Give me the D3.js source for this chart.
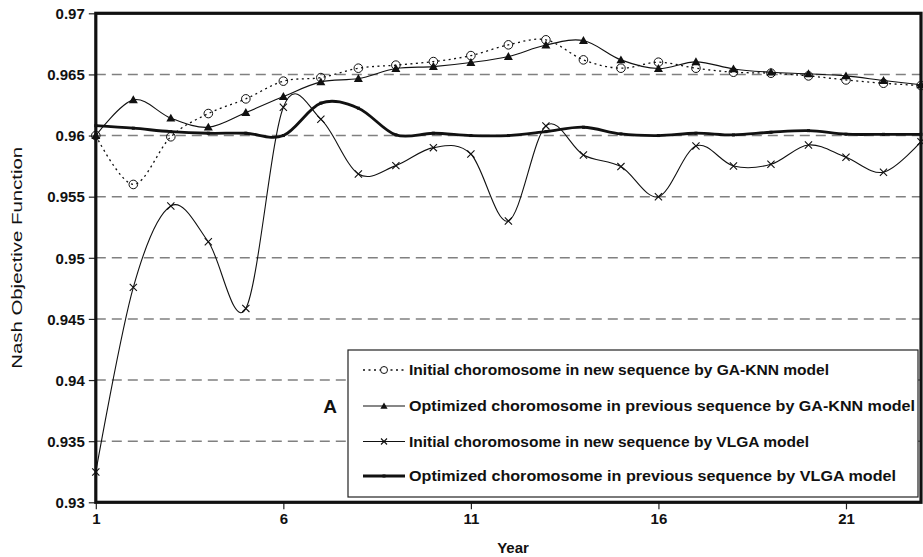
<!DOCTYPE html>
<html>
<head>
<meta charset="utf-8">
<script src="https://cdn.jsdelivr.net/npm/d3@7"></script>
<style>
  body { margin: 0; background: #fff; }
  svg text { font-family: "Liberation Sans", Arial, sans-serif; fill: #111; }
</style>
</head>
<body>
<svg id="chart" width="923" height="557"></svg>
<script>
// values
const years = [1, 2, 3, 4, 5, 6, 7, 8, 9, 10, 11, 12, 13, 14, 15, 16, 17, 18, 19, 20, 21, 22, 23];
const xTicks = [1, 6, 11, 16, 21];
const yTicks = [0.93, 0.935, 0.94, 0.945, 0.95, 0.955, 0.96, 0.965, 0.97];

const gaKnnInitial = [0.9600, 0.9560, 0.9599, 0.9618, 0.9630, 0.96445, 0.96474, 0.96551, 0.96576, 0.96605, 0.96654, 0.96742,
    0.96783, 0.96619, 0.96551, 0.96600, 0.96551, 0.96518, 0.9651, 0.96488, 0.96455, 0.96428, 0.96409];
const gaKnnOptimized = [0.9600, 0.96292, 0.96142, 0.96068, 0.96188, 0.96319, 0.96439, 0.96466, 0.96548, 0.96564, 0.96597, 0.96646,
    0.9674, 0.96777, 0.96619, 0.96548, 0.96603, 0.96545, 0.96518, 0.96505, 0.96488, 0.9645, 0.96415];
const vlgaInitial = [0.93248, 0.94758, 0.95424, 0.95131, 0.94586, 0.96232, 0.96134, 0.95686, 0.95754, 0.95901, 0.95849, 0.95301,
    0.96079, 0.95841, 0.95746, 0.9550, 0.95915, 0.95751, 0.95765, 0.95923, 0.95822, 0.9570, 0.9595];
const vlgaOptimized = [0.96081, 0.9606, 0.96032, 0.96019, 0.96019, 0.9600, 0.96265, 0.96224, 0.96005, 0.96019, 0.9600, 0.9600,
    0.96032, 0.96068, 0.96013, 0.9600, 0.96019, 0.96005, 0.96027, 0.9604, 0.96011, 0.9601, 0.9601];

const seriesNames = [
    'Initial choromosome in new sequence by GA-KNN model',
    'Optimized choromosome in previous sequence by GA-KNN model',
    'Initial choromosome in new sequence by VLGA model',
    'Optimized choromosome in previous sequence by VLGA model'
];

const svg = d3.select('#chart');
const plotLeft = 95.8, plotRight = 921, plotTop = 13.3, plotBottom = 502.3;

const x = d3.scaleLinear().domain([1, 23]).range([plotLeft, plotRight]);
const y = d3.scaleLinear().domain([0.93, 0.97]).range([plotBottom, plotTop]);

// dashed grid
svg.append('g')
    .selectAll('line')
    .data(yTicks.slice(1, -1))
    .enter()
    .append('line')
    .attr('x1', plotLeft).attr('x2', plotRight)
    .attr('y1', d => y(d)).attr('y2', d => y(d))
    .attr('stroke', '#808080')
    .attr('stroke-width', 1.5)
    .attr('stroke-dasharray', '10,6');

// axes
const yAxis = svg.append('g')
    .attr('transform', `translate(${plotLeft},0)`)
    .call(d3.axisLeft(y).tickValues(yTicks).tickFormat(d => String(+d.toFixed(3))).tickSize(7).tickSizeOuter(0));
const xAxis = svg.append('g')
    .attr('transform', `translate(0,${plotBottom})`)
    .call(d3.axisBottom(x).tickValues(xTicks).tickSize(7).tickSizeOuter(0));

[yAxis, xAxis].forEach(g => {
    g.select('.domain').remove();
    g.selectAll('line').attr('stroke', '#222').attr('stroke-width', 1.2);
    g.selectAll('text')
        .style('font-size', '15px')
        .style('font-weight', 'bold')
        .attr('fill', '#111');
});
yAxis.selectAll('text').attr('x', -11).attr('dy', '0.35em');
xAxis.selectAll('text').attr('y', 11).attr('dy', '0.71em');

// plot frame
svg.append('rect')
    .attr('x', plotLeft).attr('y', plotTop)
    .attr('width', plotRight - plotLeft).attr('height', plotBottom - plotTop)
    .attr('fill', 'none')
    .attr('stroke', '#111')
    .attr('stroke-width', 3.2);

// axis titles
svg.append('text')
    .attr('transform', `translate(22,${(plotTop + plotBottom) / 2}) rotate(-90)`)
    .attr('text-anchor', 'middle')
    .attr('textLength', 222)
    .attr('lengthAdjust', 'spacingAndGlyphs')
    .style('font-size', '15px')
    .text('Nash Objective Function');

svg.append('text')
    .attr('x', 513).attr('y', 553)
    .attr('text-anchor', 'middle')
    .style('font-size', '15px')
    .style('font-weight', 'bold')
    .text('Year');

// series
const line = d3.line()
    .x((d, i) => x(years[i]))
    .y(d => y(d))
    .curve(d3.curveCardinal.tension(0));

const plot = svg.append('g');

function drawMarkers(g, pts, kind, size) {
    if (kind === 'circle') {
        g.selectAll('circle').data(pts).enter().append('circle')
            .attr('cx', d => d[0]).attr('cy', d => d[1]).attr('r', size)
            .attr('fill', 'none').attr('stroke', '#111').attr('stroke-width', 1);
    } else if (kind === 'triangle') {
        g.selectAll('path.m').data(pts).enter().append('path')
            .attr('class', 'm')
            .attr('d', d => `M${d[0]},${d[1] - size}L${d[0] + size},${d[1] + size * 0.75}L${d[0] - size},${d[1] + size * 0.75}Z`)
            .attr('fill', '#111');
    } else if (kind === 'cross') {
        g.selectAll('path.m').data(pts).enter().append('path')
            .attr('class', 'm')
            .attr('d', d => `M${d[0] - size},${d[1] - size}L${d[0] + size},${d[1] + size}M${d[0] - size},${d[1] + size}L${d[0] + size},${d[1] - size}`)
            .attr('stroke', '#111').attr('stroke-width', 1.1);
    } else if (kind === 'square') {
        g.selectAll('rect').data(pts).enter().append('rect')
            .attr('x', d => d[0] - size).attr('y', d => d[1] - size)
            .attr('width', size * 2).attr('height', size * 2)
            .attr('fill', '#111');
    }
}

const styles = [
    { values: gaKnnInitial, width: 1.3, dash: '2,3.5', marker: 'circle', size: 4.3 },
    { values: gaKnnOptimized, width: 1.1, dash: null, marker: 'triangle', size: 4.5 },
    { values: vlgaInitial, width: 1.1, dash: null, marker: 'cross', size: 3.6 },
    { values: vlgaOptimized, width: 2.8, dash: null, marker: 'square', size: 1.5 }
];

styles.forEach(s => {
    const g = plot.append('g');
    g.append('path')
        .datum(s.values)
        .attr('d', line)
        .attr('fill', 'none')
        .attr('stroke', '#111')
        .attr('stroke-width', s.width)
        .attr('stroke-dasharray', s.dash);
    drawMarkers(g, s.values.map((v, i) => [x(years[i]), y(v)]), s.marker, s.size);
});

// "A" label
svg.append('text')
    .attr('x', 330).attr('y', 413)
    .attr('text-anchor', 'middle')
    .style('font-size', '19px')
    .style('font-weight', 'bold')
    .text('A');

// legend
const legend = svg.append('g');
legend.append('rect')
    .attr('x', 348).attr('y', 350)
    .attr('width', 570).attr('height', 147)
    .attr('fill', '#fff')
    .attr('stroke', '#222')
    .attr('stroke-width', 1.2);

const legendRows = [370, 406, 441.5, 476];
const legendWidths = [420, 506, 400, 487];
const legendSizes = [3.5, 3.6, 3, 1.5];

seriesNames.forEach((name, i) => {
    const ly = legendRows[i];
    const row = legend.append('g');
    row.append('line')
        .attr('x1', 363).attr('x2', 405)
        .attr('y1', ly).attr('y2', ly)
        .attr('stroke', '#111')
        .attr('stroke-width', styles[i].width)
        .attr('stroke-dasharray', styles[i].dash);
    drawMarkers(row, [[384, ly]], styles[i].marker, legendSizes[i]);
    row.select('circle').attr('fill', '#fff');
    row.append('text')
        .attr('x', 409).attr('y', ly)
        .attr('dy', '0.36em')
        .attr('textLength', legendWidths[i])
        .attr('lengthAdjust', 'spacingAndGlyphs')
        .style('font-size', '15px')
        .style('font-weight', 'bold')
        .text(name);
});
</script>
</body>
</html>
